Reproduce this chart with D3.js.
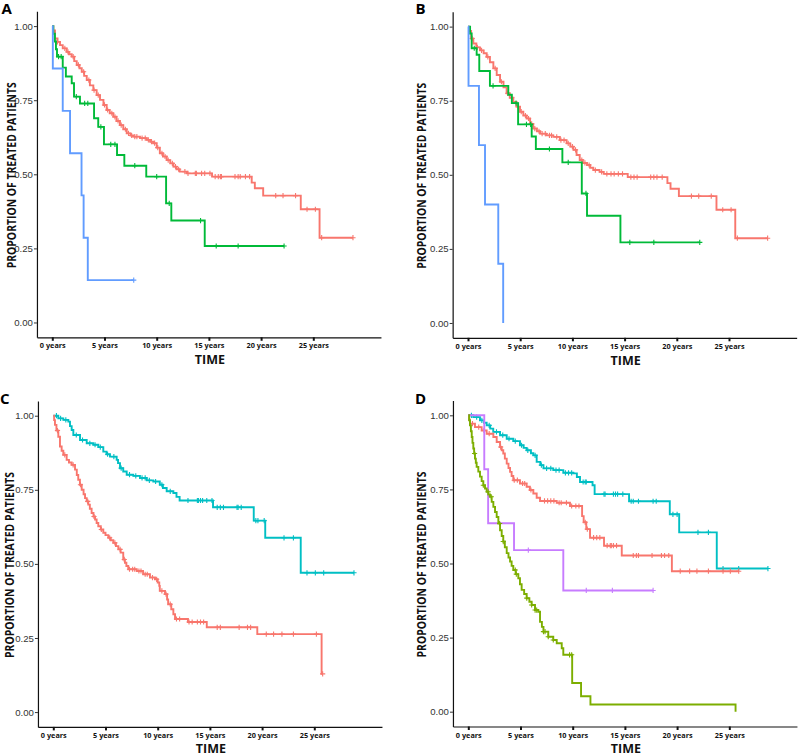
<!DOCTYPE html>
<html>
<head>
<meta charset="utf-8">
<script src="https://cdn.jsdelivr.net/npm/d3@7"></script>
<style>
  body { margin: 0; background: #fff; }
  svg { display: block; }
</style>
</head>
<body>
<svg id="chart"></svg>
<script>
var WIDTH = 798;
var HEIGHT = 754;

// colours (ggplot hue palette)
var RED = "#F8766D", GREEN = "#00BA38", BLUE = "#619CFF";
var TEAL = "#00BFC4", OLIVE = "#7CAE00", PURPLE = "#C77CFF";

var xTicks = [0, 5, 10, 15, 20, 25];
var yTicks = [0, 0.25, 0.5, 0.75, 1];
var yTitle = "PROPORTION OF TREATED PATIENTS";
var xTitle = "TIME";

// ---- panel A : [time in years, survival] at each drop, censor times
var aRed = [[0,1],[0.1,0.985],[0.26,0.958],[0.5,0.947],[0.74,0.936],[1.0,0.925],[1.38,0.913],[1.6,0.905],[1.86,0.897],[2.1,0.882],[2.34,0.869],[2.6,0.858],[2.82,0.846],[3.05,0.832],[3.3,0.818],[3.6,0.8],[3.93,0.784],[4.25,0.767],[4.57,0.751],[4.9,0.734],[5.21,0.717],[5.5,0.706],[5.84,0.694],[6.15,0.68],[6.48,0.666],[6.8,0.652],[7.13,0.638],[7.5,0.631],[7.76,0.627],[8.4,0.622],[9.04,0.616],[9.4,0.61],[9.67,0.605],[10.0,0.59],[10.3,0.571],[10.6,0.56],[10.96,0.548],[11.3,0.537],[11.6,0.526],[11.9,0.517],[12.2,0.509],[12.9,0.503],[15.3,0.492],[19.1,0.472],[19.4,0.453],[20.2,0.428],[23.8,0.382],[25.6,0.286]];
var aRedCens = [0.5,1.2,1.5,2.0,2.5,3.0,3.5,4.0,4.4,5.0,5.3,5.7,6.0,6.3,6.6,7.0,7.3,7.6,7.9,8.1,8.6,8.9,9.2,9.5,9.8,10.1,10.5,10.8,11.1,11.5,11.8,12.1,12.7,13.0,13.7,13.8,14.3,14.6,15.1,15.6,15.9,16.1,16.2,17.5,17.8,18.0,18.5,18.9,21.4,22.1,23.3,24.4,25.2,25.8,28.8];
var aGreen = [[0,1],[0.1,0.974],[0.25,0.948],[0.35,0.922],[0.45,0.897],[1.0,0.86],[1.3,0.83],[1.86,0.807],[2.08,0.762],[2.65,0.739],[4.0,0.689],[4.4,0.66],[4.95,0.601],[6.2,0.565],[6.9,0.529],[9.0,0.492],[10.9,0.402],[11.4,0.344],[14.6,0.258]];
var aGreenCens = [0.6,0.85,2.3,3.1,3.4,4.65,5.6,6.0,7.9,10.0,11.2,14.2,15.7,17.8,22.2];
var aBlue = [[0,1],[0.05,0.857],[1.0,0.714],[1.7,0.571],[2.8,0.429],[3.0,0.286],[3.4,0.143]];
var aBlueCens = [7.8];

// ---- panel B
var bRed = [[0,1],[0.1,0.985],[0.3,0.96],[0.51,0.943],[0.8,0.93],[1.15,0.92],[1.5,0.91],[1.79,0.898],[2.1,0.88],[2.43,0.859],[2.75,0.837],[3.07,0.814],[3.4,0.795],[3.7,0.775],[4.0,0.76],[4.34,0.746],[4.65,0.73],[4.98,0.713],[5.3,0.7],[5.62,0.69],[5.95,0.672],[6.25,0.656],[6.6,0.647],[6.9,0.639],[7.5,0.633],[8.17,0.628],[8.8,0.617],[9.45,0.606],[9.8,0.595],[10.1,0.584],[10.4,0.567],[10.7,0.55],[11.0,0.54],[11.4,0.533],[11.7,0.524],[12.0,0.516],[12.6,0.51],[13.0,0.503],[15.3,0.492],[19.1,0.472],[19.4,0.453],[20.2,0.428],[23.8,0.382],[25.6,0.286]];
var bRedCens = [0.4,0.9,1.3,1.9,2.6,3.2,3.8,4.2,4.8,5.1,5.5,5.8,6.1,6.4,6.8,7.1,7.4,7.8,8.0,8.5,8.9,9.2,9.6,10.0,10.3,10.9,11.2,11.6,12.2,12.8,13.3,13.7,14.0,14.4,14.8,15.6,15.9,16.2,17.5,17.8,18.1,18.6,21.4,22.1,23.3,24.4,25.2,25.8,28.7];
var bGreen = [[0,1],[0.2,0.977],[0.35,0.927],[0.83,0.905],[1.08,0.85],[2.1,0.8],[3.86,0.77],[4.2,0.742],[4.8,0.67],[6.1,0.629],[6.5,0.587],[9.04,0.542],[10.9,0.437],[11.4,0.362],[14.6,0.272]];
var bGreenCens = [0.6,2.4,4.6,5.6,6.0,7.8,9.6,11.3,15.5,17.8,22.2];
var bBlue = [[0,1],[0.05,0.8],[1.05,0.6],[1.63,0.4],[2.9,0.2],[3.37,0]];
var bBlueCens = [];

// ---- panel C
var cTeal = [[0,1],[0.48,0.991],[0.96,0.986],[1.44,0.98],[1.6,0.965],[1.76,0.952],[1.92,0.935],[2.56,0.918],[3.2,0.907],[3.83,0.902],[4.31,0.894],[4.79,0.879],[5.1,0.87],[5.43,0.862],[6.07,0.851],[6.2,0.84],[6.39,0.823],[6.7,0.812],[7.03,0.801],[7.66,0.797],[8.3,0.79],[8.95,0.782],[9.58,0.778],[10.2,0.767],[10.5,0.756],[10.86,0.745],[11.5,0.739],[11.8,0.726],[12.1,0.714],[15.3,0.691],[19.2,0.646],[20.3,0.588],[23.7,0.47]];
var cTealCens = [0.3,0.7,1.2,2.2,2.8,3.5,4.0,4.5,5.2,5.8,6.5,7.3,7.9,8.5,8.8,9.2,9.8,10.4,11.2,12.9,13.8,13.9,14.1,14.3,14.7,15.2,15.7,16.0,16.3,17.6,17.7,18.0,19.4,19.6,20.2,22.1,23.0,24.3,25.1,25.9,28.8];
var cRed = [[0,1],[0.08,0.985],[0.16,0.969],[0.3,0.95],[0.48,0.929],[0.64,0.896],[0.8,0.882],[0.96,0.868],[1.28,0.851],[1.5,0.842],[1.76,0.834],[2.08,0.818],[2.25,0.8],[2.39,0.784],[2.55,0.767],[2.72,0.75],[2.9,0.735],[3.04,0.722],[3.2,0.711],[3.35,0.7],[3.5,0.686],[3.67,0.672],[3.85,0.66],[4.0,0.65],[4.15,0.638],[4.31,0.627],[4.55,0.616],[4.79,0.605],[5.0,0.597],[5.27,0.588],[5.5,0.58],[5.75,0.571],[6.0,0.56],[6.23,0.549],[6.45,0.538],[6.7,0.515],[6.86,0.504],[7.0,0.493],[7.18,0.482],[7.99,0.476],[8.6,0.465],[9.26,0.454],[9.74,0.448],[10.0,0.437],[10.15,0.426],[10.2,0.409],[10.7,0.398],[10.9,0.38],[11.0,0.364],[11.3,0.347],[11.5,0.33],[11.66,0.314],[12.9,0.304],[14.7,0.286],[19.54,0.263],[25.7,0.129]];
var cRedCens = [0.4,1.1,1.9,2.6,3.3,3.9,4.6,5.4,5.9,6.4,6.8,7.3,7.6,7.8,8.2,8.4,8.8,9.0,9.5,9.9,10.4,10.8,11.2,11.8,12.1,13.0,13.3,13.8,14.1,14.4,15.7,16.0,17.8,18.6,18.9,20.4,21.1,21.9,23.0,25.2,25.8];

// ---- panel D
var dTeal = [[0,1],[0.48,0.994],[1.12,0.983],[1.5,0.975],[1.76,0.966],[2.1,0.955],[2.39,0.944],[3.04,0.933],[3.68,0.921],[4.31,0.913],[4.95,0.899],[5.3,0.89],[5.59,0.882],[6.0,0.872],[6.23,0.865],[6.55,0.843],[6.9,0.832],[7.2,0.821],[8.14,0.815],[9.1,0.806],[10.06,0.804],[10.4,0.792],[10.7,0.775],[11.9,0.764],[12.1,0.734],[15.4,0.71],[19.3,0.666],[20.2,0.605],[23.8,0.483]];
var dTealCens = [0.3,0.8,1.3,2.0,2.7,3.3,3.9,4.5,5.1,5.7,6.4,7.0,7.5,7.9,8.4,8.7,9.3,9.6,9.9,11.0,11.2,11.3,13.0,13.1,13.9,14.1,14.3,14.8,15.6,15.8,16.3,17.7,18.0,19.6,20.0,22.0,23.0,24.4,25.9,28.7];
var dRed = [[0,1],[0.08,0.985],[0.16,0.972],[0.64,0.96],[1.28,0.949],[1.76,0.938],[2.4,0.927],[2.72,0.91],[3.04,0.893],[3.2,0.882],[3.35,0.871],[3.5,0.854],[3.68,0.837],[3.85,0.822],[4.0,0.809],[4.15,0.795],[4.31,0.781],[4.95,0.77],[5.59,0.759],[5.9,0.748],[6.23,0.736],[6.55,0.722],[6.87,0.711],[8.47,0.705],[9.74,0.694],[10.9,0.66],[11.05,0.639],[11.3,0.616],[11.66,0.587],[13.0,0.56],[14.7,0.527],[19.5,0.474]];
var dRedCens = [0.4,1.0,1.5,2.0,3.1,4.4,4.7,5.2,5.4,6.0,7.3,7.6,7.9,8.2,8.7,8.9,9.4,9.9,10.3,10.6,11.2,11.4,12.0,12.3,12.6,13.3,13.6,13.7,13.9,14.2,15.8,16.1,16.3,17.6,18.5,18.8,19.2,20.3,21.2,21.9,23.0,24.4,25.1,25.9];
var dPurple = [[0,1],[1.53,0.818],[1.9,0.636],[4.38,0.545],[9.1,0.409]];
var dPurpleCens = [5.75,11.3,13.8,17.7];
var dOlive = [[0,1],[0.08,0.983],[0.16,0.966],[0.25,0.946],[0.33,0.927],[0.4,0.907],[0.48,0.888],[0.56,0.871],[0.64,0.854],[0.72,0.84],[0.8,0.826],[0.96,0.81],[1.12,0.793],[1.28,0.778],[1.44,0.764],[1.6,0.753],[1.76,0.742],[1.92,0.733],[2.08,0.725],[2.24,0.708],[2.4,0.691],[2.56,0.674],[2.72,0.657],[2.88,0.635],[3.04,0.612],[3.2,0.593],[3.35,0.574],[3.5,0.555],[3.68,0.535],[3.85,0.52],[4.0,0.507],[4.15,0.492],[4.31,0.478],[4.55,0.464],[4.79,0.45],[4.95,0.43],[5.11,0.411],[5.35,0.397],[5.59,0.383],[5.85,0.371],[6.07,0.36],[6.39,0.343],[6.7,0.337],[6.87,0.303],[7.05,0.286],[7.2,0.27],[7.66,0.253],[8.14,0.242],[8.47,0.231],[8.95,0.214],[9.1,0.192],[9.95,0.097],[10.8,0.052],[11.7,0.024],[25.6,0]];
var dOliveCens = [0.6,1.44,1.9,2.2,3.0,3.35,4.5,4.6,5.6,6.07,6.4,6.55,7.2,7.35,7.66,8.14,9.7,9.9];

// panel layout
var PW = 344, PH = 326;
var panels = [
  { letter: "A", left: 36.95, top: 11.3, lx: 1.5, ly: 14, tx: 16, curves: [
    { steps: aRed, cens: aRedCens, color: RED },
    { steps: aGreen, cens: aGreenCens, color: GREEN },
    { steps: aBlue, cens: aBlueCens, color: BLUE } ] },
  { letter: "B", left: 452.65, top: 11.8, lx: 415.5, ly: 14, tx: 426, curves: [
    { steps: bRed, cens: bRedCens, color: RED },
    { steps: bGreen, cens: bGreenCens, color: GREEN },
    { steps: bBlue, cens: bBlueCens, color: BLUE } ] },
  { letter: "C", left: 37.95, top: 400.9, lx: 0, ly: 403.5, tx: 14, curves: [
    { steps: cTeal, cens: cTealCens, color: TEAL },
    { steps: cRed, cens: cRedCens, color: RED } ] },
  { letter: "D", left: 452.95, top: 400.5, lx: 415, ly: 403.5, tx: 425.5, curves: [
    { steps: dTeal, cens: dTealCens, color: TEAL },
    { steps: dRed, cens: dRedCens, color: RED },
    { steps: dPurple, cens: dPurpleCens, color: PURPLE },
    { steps: dOlive, cens: dOliveCens, color: OLIVE } ] }
];

var svg = d3.select("#chart").attr("width", WIDTH).attr("height", HEIGHT);
svg.append("rect").attr("width", WIDTH).attr("height", HEIGHT).attr("fill", "#fff");

// survival value of a step curve at time t
function survAt(steps, t) {
  var s = steps[0][1];
  steps.forEach(function (d) { if (d[0] <= t) s = d[1]; });
  return s;
}

function drawPanel(p) {
  var x = d3.scaleLinear().domain([-1.47, 31.48]).range([p.left, p.left + PW]);
  var y = d3.scaleLinear().domain([-0.05, 1.05]).range([p.top + PH, p.top]);
  var g = svg.append("g");

  var line = d3.line()
    .x(function (d) { return x(d[0]); })
    .y(function (d) { return y(d[1]); })
    .curve(d3.curveStepAfter);

  p.curves.forEach(function (c) {
    var last = c.steps[c.steps.length - 1];
    var end = Math.max(last[0], d3.max(c.cens) || 0);
    var pts = c.steps.concat([[end, last[1]]]);
    g.append("path")
      .attr("d", line(pts))
      .attr("fill", "none")
      .attr("stroke", c.color)
      .attr("stroke-width", 1.9);

    //censor marks
    g.selectAll(null)
      .data(c.cens)
      .enter()
      .append("path")
      .attr("d", function (t) {
        var cx = x(t), cy = y(survAt(c.steps, t));
        return "M" + (cx - 2.6) + "," + cy + "H" + (cx + 2.6) +
               "M" + cx + "," + (cy - 2.6) + "V" + (cy + 2.6);
      })
      .attr("stroke", c.color)
      .attr("stroke-width", 1.1)
      .attr("fill", "none");
  });

  // y axis
  var yAxis = g.append("g")
    .attr("transform", "translate(" + p.left + ",0)")
    .call(d3.axisLeft(y).tickValues(yTicks).tickFormat(d3.format(".2f")).tickSize(3).tickSizeOuter(0));
  yAxis.select(".domain").attr("stroke", "#111").attr("stroke-width", 1.2);
  yAxis.selectAll(".tick line").attr("stroke", "#333").attr("stroke-width", 1);
  yAxis.selectAll(".tick text")
    .attr("x", -4)
    .attr("fill", "#333")
    .style("font-family", "'Liberation Sans', Arial, sans-serif")
    .style("font-size", "9.6px");

  // x axis
  var xAxis = g.append("g")
    .attr("transform", "translate(0," + (p.top + PH) + ")")
    .call(d3.axisBottom(x).tickValues(xTicks).tickFormat(function (d) { return d + " years"; }).tickSize(3.5).tickSizeOuter(0));
  xAxis.select(".domain").attr("stroke", "#111").attr("stroke-width", 1.2);
  xAxis.selectAll(".tick line").attr("stroke", "#111").attr("stroke-width", 2);
  xAxis.selectAll(".tick text")
    .attr("y", 6)
    .attr("fill", "#111")
    .style("font-family", "'Open Sans', sans-serif")
    .style("font-weight", "bold")
    .style("font-size", "7.3px");

  // titles
  var cy = (y(0) + y(1)) / 2 + 1;
  g.append("text")
    .attr("transform", "translate(" + p.tx + "," + cy + ") rotate(-90)")
    .attr("text-anchor", "middle")
    .attr("textLength", 186)
    .attr("lengthAdjust", "spacingAndGlyphs")
    .style("font-family", "'Open Sans', sans-serif")
    .style("font-weight", "bold")
    .style("font-size", "12.5px")
    .attr("fill", "#111")
    .text(yTitle);

  g.append("text")
    .attr("x", p.left + PW / 2 + 1)
    .attr("y", Math.min(p.top + PH + 27, HEIGHT - 1.5))
    .attr("text-anchor", "middle")
    .style("font-family", "'Open Sans', sans-serif")
    .style("font-weight", "bold")
    .style("font-size", "12.5px")
    .attr("fill", "#111")
    .text(xTitle);

  g.append("text")
    .attr("x", p.lx)
    .attr("y", p.ly)
    .style("font-family", "'Open Sans', sans-serif")
    .style("font-weight", "bold")
    .style("font-size", "15px")
    .attr("fill", "#000")
    .text(p.letter);
}

panels.forEach(drawPanel);
</script>
</body>
</html>
